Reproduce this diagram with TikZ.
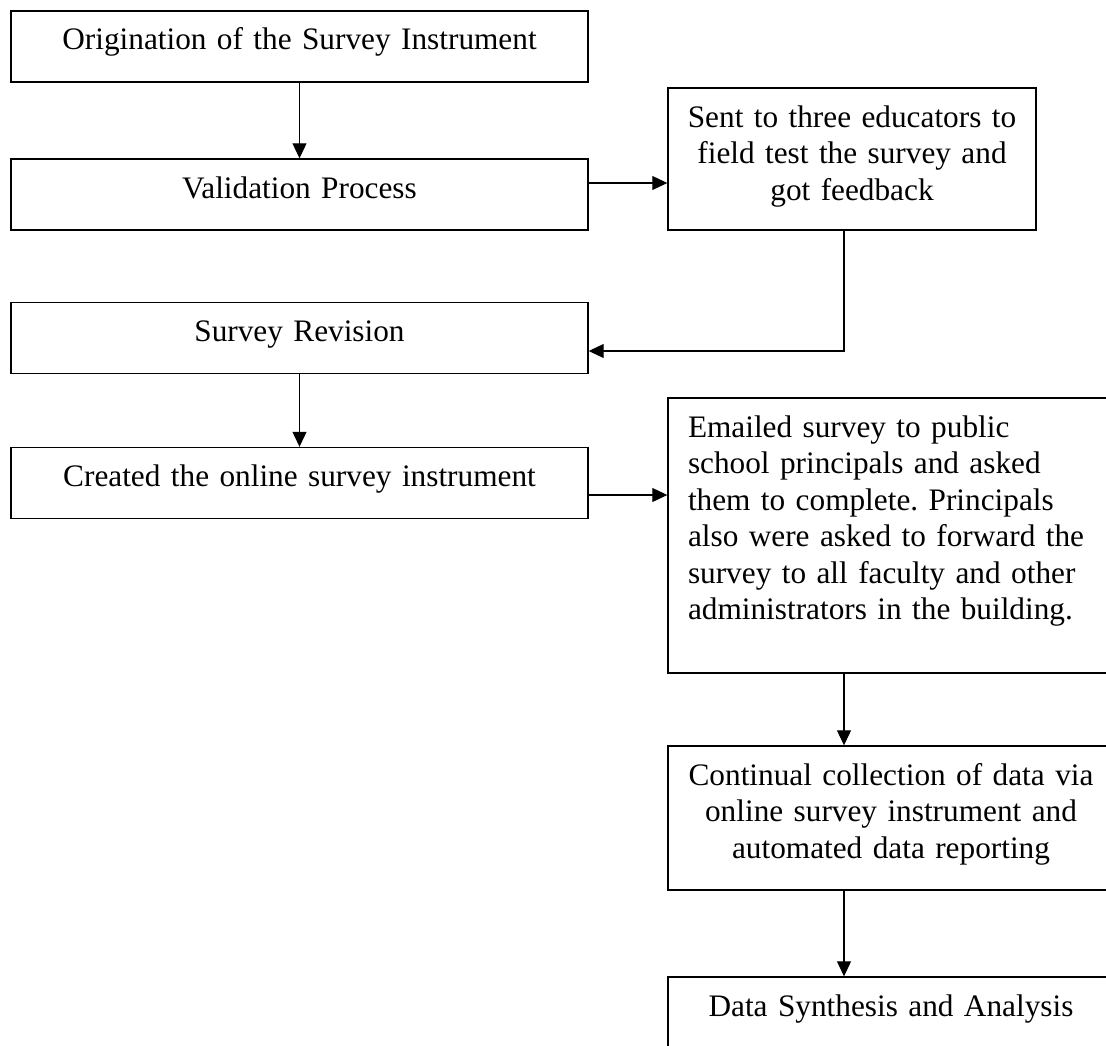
\documentclass[tikz,border=0pt]{standalone}
\usepackage{fontspec}
\setmainfont{Liberation Serif}
\usepackage{tikz}
\usetikzlibrary{arrows.meta,positioning,calc}
\frenchspacing

\begin{document}
\begin{tikzpicture}[font=\fontsize{17.8}{20.8}\selectfont]
  % Styles
  \tikzset{
    stage/.style={draw, line width=0.8pt, align=center, inner xsep=0pt, inner ysep=0pt, text height=0.78cm, text depth=0.64cm},
    mainstage/.style={stage, text width=11.54cm},
    sidestage/.style={stage, text width=8.92cm},
    line/.style={-{Triangle[length=0.3cm,width=0.28cm]}, line width=0.6pt},
  }

  % Canvas
  \useasboundingbox (0,0) rectangle (22.12,-20.9);

  % Left column
  \node[mainstage] (origin)   at (5.99,-0.93) {Origination of the Survey Instrument};
  \node[mainstage] (valid)    at (5.99,-3.89) {Validation Process};
  \node[mainstage] (revision) at (5.99,-6.76) {Survey Revision};
  \node[mainstage] (online)   at (5.99,-9.66) {Created the online survey instrument};

  % Right column
  \node[stage, text width=7.36cm, text depth=2.06cm] (fieldtest) at (17.04,-3.18) {Sent to three educators to\\field test the survey and\\got feedback};
  \node[sidestage, align=left, inner xsep=0.4cm, text width=8.12cm, text depth=4.72cm] (emailed) at (17.82,-10.71) {Emailed survey to public\\school principals and asked\\them to complete. Principals\\also were asked to forward the\\survey to all faculty and other\\administrators in the building.};
  \node[sidestage, text depth=2.10cm] (collect) at (17.82,-16.36) {Continual collection of data via\\online survey instrument and\\automated data reporting};
  \node[sidestage] (synth) at (17.82,-20.25) {Data Synthesis and Analysis};

  \coordinate (spine) at (16.88,0);

  % Links
  \draw[line] (origin) -- (valid);
  \draw[line] ([yshift=0.23cm]valid.east) -- ([yshift=0.23cm]valid.east -| fieldtest.west);
  \draw[line] (fieldtest.south -| spine) |- ([yshift=-0.26cm]revision.east);
  \draw[line] (revision) -- (online);
  \draw[line] ([yshift=-0.24cm]online.east) -- ([yshift=-0.24cm]online.east -| emailed.west);
  \draw[line] (emailed.south -| spine) -- (collect.north -| spine);
  \draw[line] (collect.south -| spine) -- (synth.north -| spine);
\end{tikzpicture}
\end{document}
